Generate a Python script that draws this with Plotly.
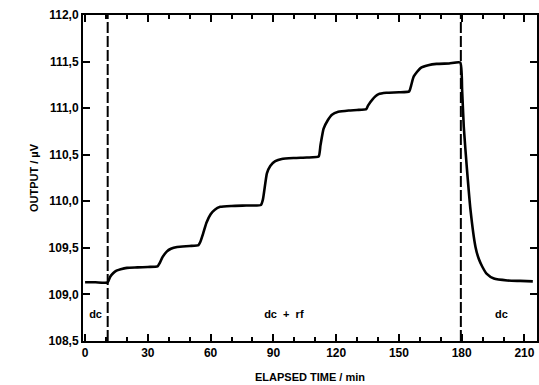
import plotly.graph_objects as go

# Time (min) and output (µV)
time_min = [0, 5, 10.8, 12, 13.5, 15, 17, 20, 25, 30, 34.6,
            35.5, 37, 39, 41, 44, 50, 54.2,
            55, 56.5, 58, 60, 62, 64.6, 70, 77, 84,
            85, 86.9, 88.5, 90.9, 94, 100, 106, 111.6,
            112.5, 114, 116, 118, 121, 126, 130, 134.4,
            135.3, 137.2, 140.3, 144, 150, 154.9,
            155.8, 157.1, 160.3, 164, 168, 174, 179.3,
            180.2, 181, 182.5, 184.2, 186.6, 188.2, 189.8, 192, 195.4, 201.8, 208, 214]
output_uv = [109.13, 109.13, 109.13, 109.19, 109.23, 109.255, 109.27, 109.285, 109.29, 109.295, 109.30,
             109.33, 109.40, 109.46, 109.49, 109.51, 109.52, 109.53,
             109.56, 109.66, 109.77, 109.86, 109.91, 109.94, 109.95, 109.955, 109.96,
             110.02, 110.30, 110.38, 110.43, 110.455, 110.465, 110.47, 110.48,
             110.60, 110.78, 110.87, 110.93, 110.96, 110.975, 110.98, 110.99,
             111.03, 111.09, 111.15, 111.165, 111.17, 111.18,
             111.24, 111.34, 111.43, 111.46, 111.475, 111.48, 111.49,
             111.20, 110.80, 110.35, 109.91, 109.51, 109.38, 109.30, 109.22, 109.17, 109.15, 109.145, 109.14]

# Dashed markers of the field change
switch_times = [10.8, 179.6]
y_range = [108.5, 112.0]

# Region labels
label_texts = ["dc", "dc  +  rf", "dc"]
label_x = [5, 95, 199]
label_y = [108.78, 108.78, 108.78]

x_ticks = [0, 30, 60, 90, 120, 150, 180, 210]
y_ticks = [108.5, 109.0, 109.5, 110.0, 110.5, 111.0, 111.5, 112.0]
y_tick_text = ["108,5", "109,0", "109,5", "110,0", "110,5", "111,0", "111,5", "112,0"]

fig = go.Figure()

for t in switch_times:
    fig.add_trace(go.Scatter(x=[t, t], y=y_range, mode="lines",
                             line=dict(color="black", width=2, dash="11px,3px"),
                             showlegend=False, hoverinfo="skip"))

fig.add_trace(go.Scatter(x=time_min, y=output_uv, mode="lines",
                         line=dict(color="black", width=2.6, shape="spline", smoothing=0.5),
                         showlegend=False))

fig.add_trace(go.Scatter(x=label_x, y=label_y, mode="text", text=label_texts,
                         textfont=dict(family="Liberation Sans", size=11, color="black", weight="bold"),
                         showlegend=False, hoverinfo="skip"))

font_tick = dict(family="Liberation Sans", size=12, color="black", weight="bold")
font_title = dict(family="Liberation Sans", size=11, color="black", weight="bold")

fig.update_layout(
    width=539, height=385,
    margin=dict(l=83, r=2, t=15, b=44),
    paper_bgcolor="white", plot_bgcolor="white",
    font=font_tick,
    xaxis=dict(range=[-1, 216], tickvals=x_ticks, ticks="inside", ticklen=7, tickwidth=2,
               tickcolor="black", showline=True, linewidth=2, linecolor="black", mirror="allticks",
               showgrid=False, zeroline=False, automargin=False,
               minor=dict(dtick=10, tick0=0, ticks="inside", ticklen=4, tickwidth=1.5, tickcolor="black"),
               tickfont=font_tick,
               title=dict(text="ELAPSED TIME / min", font=font_title, standoff=14)),
    yaxis=dict(range=y_range, tickvals=y_ticks, ticktext=y_tick_text, ticks="inside", ticklen=7, tickwidth=2,
               tickcolor="black", showline=True, linewidth=2, linecolor="black", mirror="allticks",
               showgrid=False, zeroline=False, automargin=False, tickfont=font_tick,
               title=dict(text="OUTPUT / µV", font=font_title, standoff=8)),
)

fig.write_html("out.html", config={"displayModeBar": False},
               post_script="document.body.style.margin='0px';document.body.style.overflow='hidden';")
